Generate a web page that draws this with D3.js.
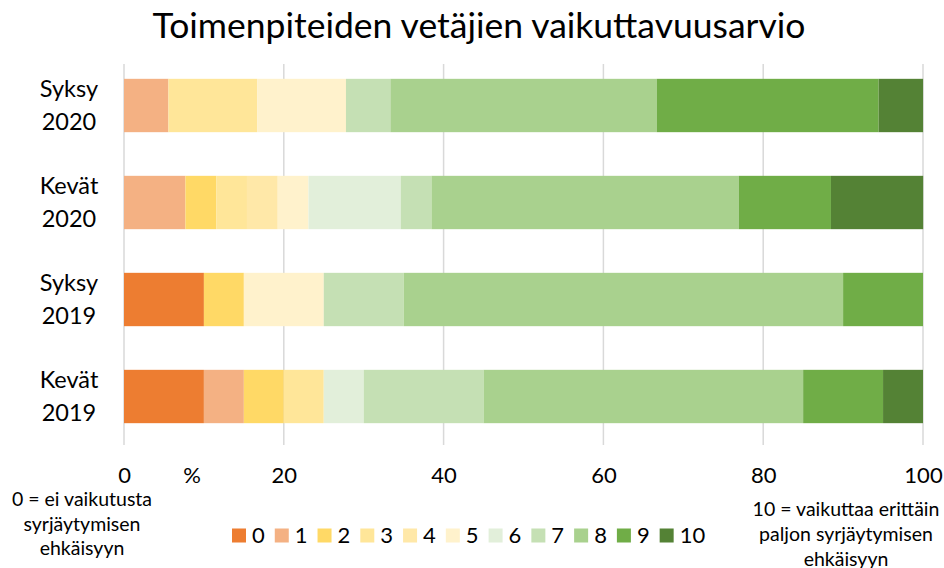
<!DOCTYPE html>
<html><head><meta charset="utf-8">
<script src="https://cdn.jsdelivr.net/npm/d3@7"></script>
<style>html,body{margin:0;padding:0;background:#fff;}svg{display:block;font-family:Lato,"Open Sans",sans-serif;}</style>
</head><body><svg id="c" width="944" height="568"></svg>
<script>
const title = "Toimenpiteiden vetäjien vaikuttavuusarvio";
const categories = ["Syksy 2020", "Kevät 2020", "Syksy 2019", "Kevät 2019"];
const categoryLines = [["Syksy","2020"],["Kevät","2020"],["Syksy","2019"],["Kevät","2019"]];
const seriesKeys = ["0","1","2","3","4","5","6","7","8","9","10"];
const s0  = [0, 0, 10, 10];
const s1  = [5.56, 7.69, 0, 5];
const s2  = [0, 3.85, 5, 5];
const s3  = [11.11, 3.85, 0, 5];
const s4  = [0, 3.85, 0, 0];
const s5  = [11.11, 3.85, 10, 0];
const s6  = [0, 11.54, 0, 5];
const s7  = [5.56, 3.85, 10, 15];
const s8  = [33.33, 38.46, 55, 40];
const s9  = [27.78, 11.54, 10, 10];
const s10 = [5.56, 11.54, 0, 5];
const colors = ["#ED7D31","#F4B183","#FFD966","#FFE699","#FFE8A8","#FFF2CC","#E2EFDA","#C5E0B4","#A9D18E","#70AD47","#548235"];
const xTicks = [0, 20, 40, 60, 80, 100];
const unitLabel = "%";
const leftNote = ["0 = ei vaikutusta","syrjäytymisen","ehkäisyyn"];
const rightNote = ["10 = vaikuttaa erittäin","paljon syrjäytymisen","ehkäisyyn"];

const seriesValues = [s0,s1,s2,s3,s4,s5,s6,s7,s8,s9,s10];
const rows = categories.map((c,i) => {
  const r = {cat: c};
  seriesKeys.forEach((k,j) => r[k] = seriesValues[j][i]);
  return r;
});

const svg = d3.select("#c");
const x = d3.scaleLinear().domain([0,100]).range([124, 923]);
const y = d3.scaleBand().domain(categories).range([57, 445]).paddingInner(0.45).paddingOuter(0.225);
const color = d3.scaleOrdinal().domain(seriesKeys).range(colors);

// title
svg.append("text").attr("x", 479).attr("y", 38).attr("text-anchor","middle")
  .attr("font-size", 35.5).attr("fill","#000").text(title);

// gridlines
svg.append("g").selectAll("line").data(xTicks).join("line")
  .attr("x1", d => x(d)).attr("x2", d => x(d))
  .attr("y1", 64).attr("y2", 445)
  .attr("stroke", "#D9D9D9").attr("stroke-width", 1.5);

// bars
const stack = d3.stack().keys(seriesKeys)(rows);
svg.append("g").selectAll("g").data(stack).join("g")
  .attr("fill", d => color(d.key))
  .selectAll("rect").data(d => d).join("rect")
  .attr("x", d => x(d[0]))
  .attr("width", d => Math.max(0, x(d[1]) - x(d[0])))
  .attr("y", d => y(d.data.cat))
  .attr("height", y.bandwidth());

// x axis labels
const xAxis = d3.axisBottom(x).tickValues(xTicks).tickSize(0).tickPadding(0);
const gx = svg.append("g").attr("transform", "translate(0,483)").call(xAxis);
gx.select(".domain").remove();
gx.selectAll("text").attr("font-size", 22).attr("font-family","Lato").attr("fill","#000")
  .attr("dy", 0).attr("y", 0);
svg.append("text").attr("x", 192).attr("y", 483).attr("text-anchor","middle")
  .attr("font-size", 22).attr("fill","#000").text(unitLabel);

// y labels
categories.forEach((c,i) => {
  const cy = y(c) + y.bandwidth()/2;
  const t = svg.append("text").attr("text-anchor","middle").attr("font-size", 23.5).attr("fill","#000");
  t.append("tspan").attr("x", 69).attr("y", cy - 8.5).text(categoryLines[i][0]);
  t.append("tspan").attr("x", 69).attr("y", cy + 24).text(categoryLines[i][1]);
});

// notes
const ln = svg.append("text").attr("text-anchor","middle").attr("font-size", 19.5).attr("fill","#000");
leftNote.forEach((s,i) => ln.append("tspan").attr("x", 82).attr("y", 506 + i*24.5).text(s));
const rn = svg.append("text").attr("text-anchor","middle").attr("font-size", 19.5).attr("fill","#000");
rightNote.forEach((s,i) => rn.append("tspan").attr("x", 846).attr("y", 516 + i*25).text(s));

// legend
const lg = svg.append("g");
let lx = 232;
seriesKeys.forEach((k,i) => {
  lg.append("rect").attr("x", lx).attr("y", 528.5).attr("width", 14).attr("height", 14).attr("fill", color(k));
  const t = lg.append("text").attr("x", lx + 20).attr("y", 543).attr("font-size", 22).attr("fill","#000").text(k);
  lx += 20 + t.node().getComputedTextLength() + 10;
});
</script></body></html>
